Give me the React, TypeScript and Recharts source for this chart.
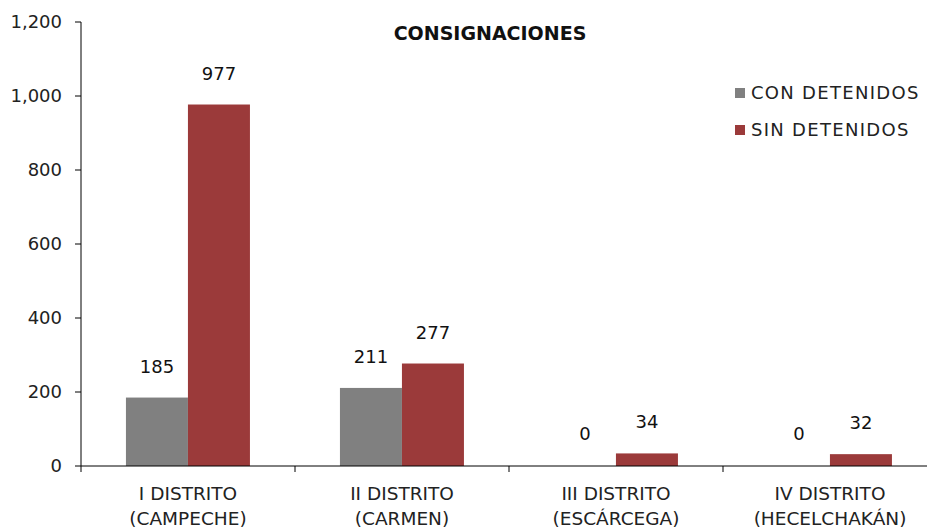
import React from "react";
import { BarChart, Bar, XAxis, YAxis, LabelList } from "recharts";

const distritos = ["I DISTRITO", "II DISTRITO", "III DISTRITO", "IV DISTRITO"];
const sedes = ["(CAMPECHE)", "(CARMEN)", "(ESCÁRCEGA)", "(HECELCHAKÁN)"];
const conDetenidos = [185, 211, 0, 0];
const sinDetenidos = [977, 277, 34, 32];
const yTicks = [0, 200, 400, 600, 800, 1000, 1200];

const data = distritos.map((d, i) => ({
  name: d,
  sede: sedes[i],
  con: conDetenidos[i],
  sin: sinDetenidos[i]
}));

const W = 945;
const H = 531;
const LEFT = 81;
const RIGHT = 8;
const band = (W - LEFT - RIGHT) / distritos.length;

const labelFont = "'DejaVu Sans', sans-serif";

function CatTick(props: any) {
  const { x, y, payload, index } = props;
  const item = data[index] || data.find((d) => d.name === payload.value);
  return (
    <g>
      <line x1={x - band / 2} y1={y - 8} x2={x - band / 2} y2={y - 2} stroke="#000" />
      <text x={x} y={y + 26} textAnchor="middle" fontSize={18.5} fill="#222" fontFamily={labelFont}>
        <tspan x={x}>{payload.value}</tspan>
        <tspan x={x} dy={25}>{item ? item.sede : ""}</tspan>
      </text>
    </g>
  );
}

// draws nothing for zero-valued bars, but keeps the label
function BarShape(props: any) {
  const { x, y, width, height, fill, value } = props;
  const v = Array.isArray(value) ? value[1] - value[0] : value;
  if (!v) return null;
  return <rect x={x} y={y} width={width} height={height} fill={fill} />;
}

const legendItems = [
  { label: "CON DETENIDOS", color: "#808080" },
  { label: "SIN DETENIDOS", color: "#9B3A3A" }
];

export default function App() {
  return (
    <div style={{ position: "absolute", left: 0, top: 0, width: 927, height: H, overflow: "hidden", background: "#fff" }}>
      <BarChart
        width={W}
        height={H}
        data={data}
        margin={{ top: 22, right: RIGHT, left: 0, bottom: 0 }}
        barCategoryGap="21%"
        barGap={0}
      >
        <XAxis
          dataKey="name"
          height={65}
          tickLine={false}
          axisLine={{ stroke: "#000" }}
          tick={<CatTick />}
          interval={0}
        />
        <YAxis
          width={LEFT}
          domain={[0, 1200]}
          ticks={yTicks}
          tickSize={6}
          tickMargin={13}
          axisLine={{ stroke: "#000" }}
          tickLine={{ stroke: "#000" }}
          tick={{ fontSize: 18, fill: "#222", fontFamily: labelFont }}
          tickFormatter={(v: number) => v.toLocaleString("en-US")}
        />
        <Bar dataKey="con" fill="#808080" minPointSize={1} shape={<BarShape />} isAnimationActive={false}>
          <LabelList dataKey="con" position="top" offset={25} style={{ fontSize: 18, fill: "#111", fontFamily: labelFont }} />
        </Bar>
        <Bar dataKey="sin" fill="#9B3A3A" minPointSize={1} shape={<BarShape />} isAnimationActive={false}>
          <LabelList dataKey="sin" position="top" offset={25} style={{ fontSize: 18, fill: "#111", fontFamily: labelFont }} />
        </Bar>
      </BarChart>
      <div
        style={{
          position: "absolute",
          left: 0,
          width: 980,
          top: 22,
          textAlign: "center",
          fontFamily: labelFont,
          fontWeight: "bold",
          fontSize: 19,
          color: "#111"
        }}
      >
        CONSIGNACIONES
      </div>
      <div style={{ position: "absolute", left: 735, top: 74, fontFamily: labelFont, fontSize: 18, letterSpacing: 1.3, color: "#222" }}>
        {legendItems.map((it) => (
          <div key={it.label} style={{ display: "flex", alignItems: "center", height: 37 }}>
            <span style={{ width: 10, height: 10, background: it.color, marginRight: 6 }} />
            {it.label}
          </div>
        ))}
      </div>
    </div>
  );
}
